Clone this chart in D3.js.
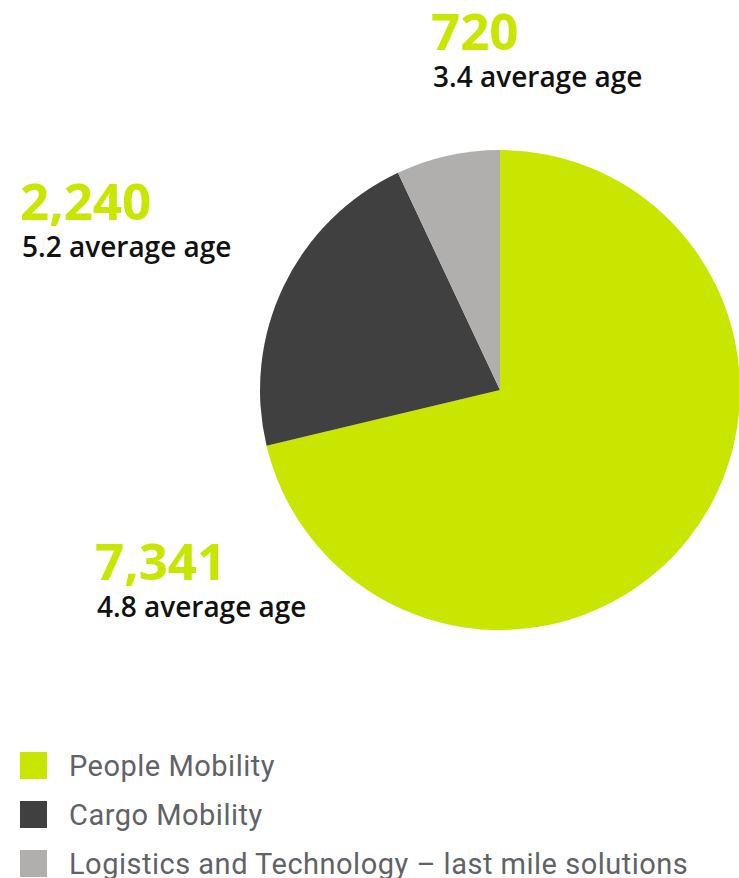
<!DOCTYPE html>
<html>
<head>
<meta charset="utf-8">
<script src="https://cdn.jsdelivr.net/npm/d3@7"></script>
<style>
  html, body { margin: 0; padding: 0; background: #fff; }
  svg { display: block; }
</style>
</head>
<body>
<svg id="chart" width="739" height="878"></svg>
<script>
// Fleet by business segment
const categories = ["People Mobility", "Cargo Mobility", "Logistics and Technology – last mile solutions"];
const vehicles = [7341, 2240, 720];
const averageAge = [4.8, 5.2, 3.4];
const colors = ["#c8e600", "#404040", "#b0afad"];

const svg = d3.select("#chart");
const cx = 500, cy = 390, radius = 240;

const data = categories.map((c, i) => ({ name: c, value: vehicles[i], age: averageAge[i], color: colors[i] }));

const pie = d3.pie().value(d => d.value).sort(null);
const arc = d3.arc().innerRadius(0).outerRadius(radius);

svg.append("g")
  .attr("transform", `translate(${cx},${cy})`)
  .selectAll("path")
  .data(pie(data))
  .join("path")
  .attr("d", arc)
  .attr("fill", d => d.data.color);

// Value callouts
const labelPos = [
  { x: 97, y: 580 },
  { x: 22, y: 220 },
  { x: 433, y: 50 }
];
const fmt = d3.format(",");
const labels = svg.append("g").selectAll("g")
  .data(data)
  .join("g")
  .attr("transform", (d, i) => `translate(${labelPos[i].x},${labelPos[i].y})`);

labels.append("text")
  .attr("x", -2)
  .attr("font-family", "'Open Sans', sans-serif")
  .attr("font-weight", 700)
  .attr("font-size", 51)
  .attr("fill", "#c8e600")
  .text(d => fmt(d.value));

labels.append("text")
  .attr("y", 37)
  .attr("font-family", "'Open Sans', sans-serif")
  .attr("font-weight", 600)
  .attr("font-size", 28)
  .attr("fill", "#111")
  .text(d => `${d.age} average age`);

// Legend
const legend = svg.append("g").selectAll("g")
  .data(data)
  .join("g")
  .attr("transform", (d, i) => `translate(20,${752 + i * 49})`);

legend.append("rect")
  .attr("width", 27)
  .attr("height", 27)
  .attr("fill", d => d.color);

legend.append("text")
  .attr("x", 49)
  .attr("y", 24)
  .attr("font-family", "Roboto, sans-serif")
  .attr("font-size", 29)
  .attr("letter-spacing", 0.5)
  .attr("fill", "#5f6368")
  .text(d => d.name);
</script>
</body>
</html>
